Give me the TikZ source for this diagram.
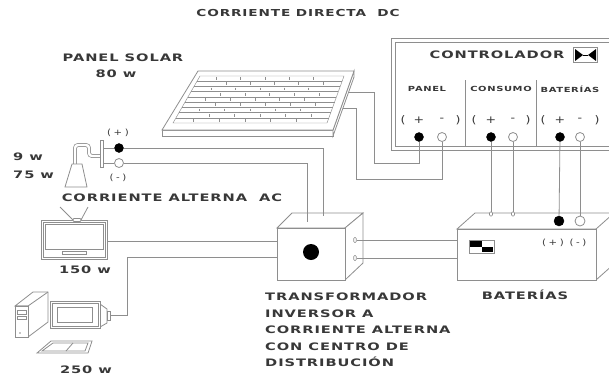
\documentclass[tikz,border=0pt]{standalone}
\usepackage{fontspec}
\newfontfamily\wide[FakeStretch=1.42,LetterSpace=9]{DejaVu Sans Bold}
\newfontfamily\plain[FakeStretch=1.2,LetterSpace=30]{DejaVu Sans}
\definecolor{wiregray}{HTML}{8E8E8E}
\definecolor{ink}{HTML}{383838}
\tikzset{
  wire/.style={draw=wiregray, line width=0.8pt},
  part/.style={draw=wiregray, line width=0.8pt, fill=white},
  cell/.style={draw=wiregray, line width=0.45pt},
  lbl/.style={font=\wide\fontsize{10.3}{16.5}\selectfont, text=ink, inner sep=0pt},
  small lbl/.style={font=\wide\fontsize{7}{8}\selectfont, text=ink, inner sep=0pt},
  sign/.style={font=\plain\fontsize{8.5}{9}\selectfont, text=ink, inner sep=0pt},
  big sign/.style={font=\plain\fontsize{10.5}{11}\selectfont, text=ink, inner sep=0pt},
  term pos/.style={circle, fill=black, draw=black, minimum size=9pt, inner sep=0pt},
  term neg/.style={circle, fill=white, draw=wiregray, line width=0.8pt, minimum size=9pt, inner sep=0pt},
  plug/.style={rectangle, rounded corners=1pt, draw=wiregray, fill=white, line width=0.6pt,
    minimum width=3pt, minimum height=4pt, inner sep=0pt},
}

\begin{document}
\begin{tikzpicture}[x=1pt, y=-1pt]
\useasboundingbox (0,0) rectangle (609,376);
\clip (0,0) rectangle (609,376);

\node[lbl, font=\wide\fontsize{9.6}{12}\selectfont] (dc) at (298,13) {CORRIENTE DIRECTA\ \ DC};
\node[lbl] (ac) at (172,198) {CORRIENTE ALTERNA\ \ AC};

% solar panel
\draw[part] (162,130) rectangle (333,136);
\draw[part] (333,136) -- (354,77) -- (354,71) -- (333,130) -- cycle;
\draw[part] (162,130) -- (198,71) -- (354,71) -- (333,130) -- cycle;
\draw[cell] (173,123) -- (200,76) -- (344,76) -- (327,123) -- cycle;
\foreach \r in {1,...,8} {
  \pgfmathsetmacro\yy{76+\r*5.22}
  \pgfmathsetmacro\xl{200-(\yy-76)*27/47}
  \pgfmathsetmacro\xr{344-(\yy-76)*17/47}
  \draw[cell] (\xl,\yy) -- (\xr,\yy);
}
\foreach \r in {0,...,8} {
  \pgfmathsetmacro\yy{76+(\r+0.5)*5.22}
  \pgfmathsetmacro\xl{200-(\yy-76)*27/47}
  \pgfmathsetmacro\xr{344-(\yy-76)*17/47}
  \foreach \k in {1,...,5} {
    \pgfmathsetmacro\xx{\xl+(\k-0.25+0.5*mod(\r,2))*(\xr-\xl)/6}
    \draw[cell] (\xx,\yy-1.4) -- (\xx,\yy+1.4);
  }
}
\coordinate (pv-a) at (349,92);
\coordinate (pv-b) at (343,108);
\node[lbl] (pv-name) at (123,58) {PANEL SOLAR};
\node[lbl] (pv-watt) at (116,74) {80 w};

% controller
\draw[part] (391,38) rectangle (630,150);
\draw[wire] (395,42) rectangle (626,146);
\node[lbl] (ctrl) at (497,55) {CONTROLADOR};
\node[draw=wiregray, fill=white, line width=0.8pt, minimum width=24pt, minimum height=15pt,
  inner sep=0pt] (ico) at (585.5,55) {};
\fill (575,49) -- (583,55) -- (575,61) -- cycle;
\fill (596,49) -- (588,55) -- (596,61) -- cycle;
\draw[line width=0.8pt] (583,55) -- (588,55);
\draw[wire] (465,80) -- (465,146);
\draw[wire] (536,80) -- (536,146);
\node[small lbl] (sec-pv) at (427,89) {PANEL};
\node[small lbl] (sec-load) at (501,89) {CONSUMO};
\node[small lbl] (sec-bat) at (570,89) {BATERÍAS};
\foreach \name/\xo/\xp/\xn/\xc in {cp/403/419/442/458, cc/474/491/513/528, cb/543/560/580/597} {
  \node[big sign] at (\xo,120) {(};
  \node[big sign] at (\xp,120) {+};
  \node[big sign] at (\xn,120) {-};
  \node[big sign] at (\xc,120) {)};
  \node[term pos] (\name-pos) at (\xp,137) {};
  \node[term neg] (\name-neg) at (\xn,137) {};
}

% battery bank
\draw[part] (457,229) -- (475,213) -- (630,213) -- (596,229) -- cycle;
\draw[part] (596,229) -- (614,213) -- (614,264) -- (596,280) -- cycle;
\draw[part] (457,229) rectangle (596,280);
\draw[draw=wiregray, line width=0.8pt] (469,240) rectangle (494,253);
\fill (470,241) rectangle (481.5,246.5);
\fill (481.5,246.5) rectangle (493,252);
\node[term pos, minimum size=10pt] (bat-pos) at (559,221) {};
\node[term neg, minimum size=10pt] (bat-neg) at (580,221) {};
\node[plug] (bat-c1) at (491,214) {};
\node[plug] (bat-c2) at (513,214) {};
\node[sign] (bat-p) at (553,243) {(+)};
\node[sign] (bat-n) at (578,243) {(-)};
\node[lbl] (bat-name) at (525,295) {BATERÍAS};
\coordinate (bat-l1) at (457,240);
\coordinate (bat-l2) at (457,258);

% inverter
\draw[part] (277,228) -- (292,213) -- (363,213) -- (345,228) -- cycle;
\draw[part] (345,228) -- (363,213) -- (363,263) -- (345,280) -- cycle;
\draw[part] (277,228) rectangle (345,280);
\node[circle, fill=black, minimum size=16pt, inner sep=0pt] (knob) at (311,252) {};
\node[plug, minimum width=2.5pt, minimum height=5pt] (inv-o1) at (355,240) {};
\node[plug, minimum width=2.5pt, minimum height=5pt] (inv-o2) at (355,258) {};
\coordinate (inv-t1) at (307,222);
\coordinate (inv-t2) at (323,216);
\coordinate (inv-l1) at (277,241);
\coordinate (inv-l2) at (277,257);
\node[lbl, align=left, anchor=west] (inv-name) at (265,330)
  {TRANSFORMADOR\\INVERSOR A\\CORRIENTE ALTERNA\\CON CENTRO DE\\DISTRIBUCIÓN};

% lamp
\draw[wiregray, line width=0.7pt, double=white, double distance=2.4pt, rounded corners=3pt]
  (75,164) -- (75,145) -- (89,145) -- (89,156) -- (100,156);
\draw[part] (65,187) -- (72,164) -- (82,164) -- (87,187) -- cycle;
\node[part, minimum width=3pt, minimum height=27pt, inner sep=0pt] (plate) at (101.5,153.5) {};
\node[term pos] (lamp-pos) at (119,148) {};
\node[term neg] (lamp-neg) at (119,163) {};
\draw[wire] (plate.east |- lamp-pos) -- (lamp-pos);
\draw[wire] (plate.east |- lamp-neg) -- (lamp-neg);
\node[sign] (lamp-p) at (118,133) {(+)};
\node[sign] (lamp-n) at (118,178) {(-)};
\node[lbl, anchor=west] (lamp-w1) at (13,157) {9 w};
\node[lbl, anchor=west] (lamp-w2) at (13,175) {75 w};

% television
\draw[wire] (60,207) -- (73,220);
\draw[wire] (88,207) -- (81,220);
\draw[part] (41,220) rectangle (107,259);
\draw[wire] (43,222) rectangle (105,257);
\draw[wire] (45,224) rectangle (103,249);
\draw[wire] (62,251) rectangle (86,254);
\node[part, rounded corners=1.5pt, minimum width=9pt, minimum height=3pt, inner sep=0pt] (tv-knob) at (77,220) {};
\coordinate (tv-out) at (107,241);
\node[lbl] (tv-watt) at (85,270) {150 w};

% computer
\draw[part] (15,306) -- (33,292) -- (48,292) -- (48,322) -- (28,337) -- (28,306) -- cycle;
\draw[wire] (15,306) -- (28,306) -- (48,292);
\draw[part] (15,306) rectangle (28,337);
\draw[wire] (17,310) rectangle (26,314);
\draw[wire] (17,316) rectangle (26,319);
\fill[wiregray] (20,333) circle (0.8);
\draw[part] (100,304) -- (107,309) -- (107,323) -- (100,327) -- cycle;
\draw[part] (107,311) rectangle (110,320);
\draw[part] (50,301) rectangle (100,328);
\draw[wire] (52,303) rectangle (98,326);
\draw[wire] (57,307) rectangle (92,322);
\draw[part] (37,353) -- (51,341) -- (92,341) -- (88,353) -- cycle;
\draw[wire] (42,351) -- (53,343) -- (88,343) -- (85,351) -- cycle;
\draw[wire] (66,351) -- (73,343);
\coordinate (pc-out) at (110,315);
\node[lbl] (pc-watt) at (86,370) {250 w};

% wiring
\draw[wire] (lamp-pos) -| (inv-t2);
\draw[wire] (lamp-neg) -| (inv-t1);
\draw[wire] (pv-a) -| (374,163) -| (cp-pos);
\draw[wire] (pv-b) -| (356,179) -| (cp-neg);
\draw[wire] (cc-pos) -- (bat-c1);
\draw[wire] (cc-neg) -- (bat-c2);
\draw[wire] (cb-pos) -- (bat-pos);
\draw[wire] (cb-neg) -- (bat-neg);
\draw[wire] (inv-o1) -- (bat-l1);
\draw[wire] (inv-o2) -- (bat-l2);
\draw[wire] (tv-out) -- (inv-l1);
\draw[wire] (pc-out) -| (127,257) -- (inv-l2);
\end{tikzpicture}
\end{document}
